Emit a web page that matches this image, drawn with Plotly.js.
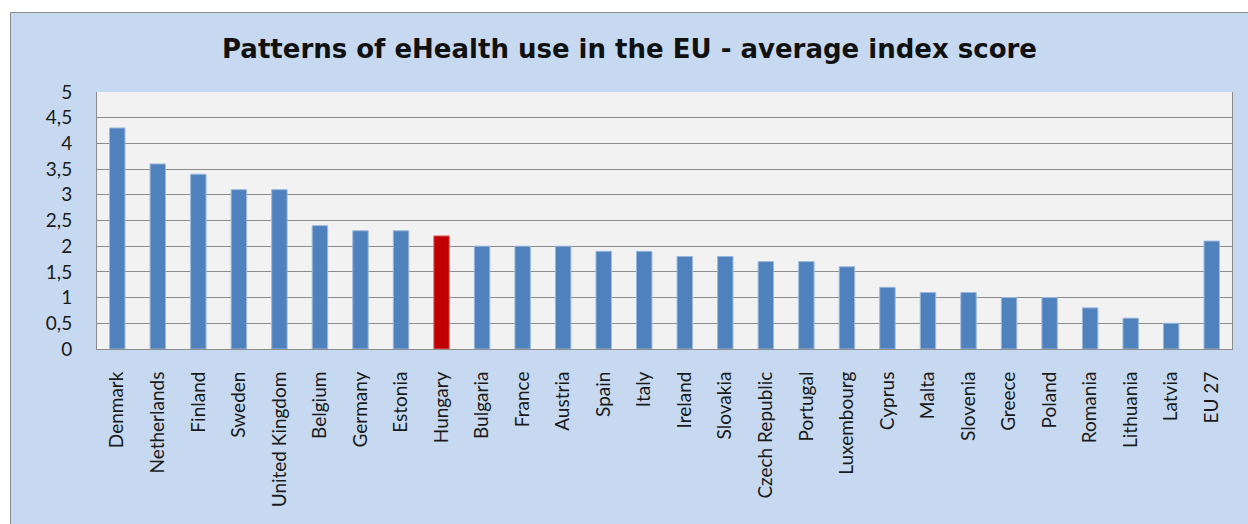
<!DOCTYPE html>
<html>
<head>
<meta charset="utf-8">
<script src="https://cdn.plot.ly/plotly-3.0.1.min.js"></script>
<style>
html,body{margin:0;padding:0;background:#ffffff;width:1248px;height:524px;overflow:hidden;}
#chart{position:absolute;left:10px;top:12px;width:1237px;height:511px;border-left:1px solid #8c8c8c;border-top:1px solid #8c8c8c;}
</style>
</head>
<body>
<div id="chart"></div>
<script>
const countries = ["Denmark","Netherlands","Finland","Sweden","United Kingdom","Belgium","Germany","Estonia","Hungary","Bulgaria","France","Austria","Spain","Italy","Ireland","Slovakia","Czech Republic","Portugal","Luxembourg","Cyprus","Malta","Slovenia","Greece","Poland","Romania","Lithuania","Latvia","EU 27"];
const scores = [4.3,3.6,3.4,3.1,3.1,2.4,2.3,2.3,2.2,2.0,2.0,2.0,1.9,1.9,1.8,1.8,1.7,1.7,1.6,1.2,1.1,1.1,1.0,1.0,0.8,0.6,0.5,2.1];
const highlighted = "Hungary";
const yTickVals = [0,0.5,1,1.5,2,2.5,3,3.5,4,4.5,5];
const yTickText = ["0","0,5","1","1,5","2","2,5","3","3,5","4","4,5","5"];

const colors = countries.map(c => c === highlighted ? "#c00000" : "#4f81bd");
const lineColors = countries.map(c => c === highlighted ? "#e06666" : "#9bb7dc");

const trace = {
  type: "bar",
  x: countries,
  y: scores,
  marker: {color: colors, line: {color: lineColors, width: 1}},
  hoverinfo: "x+y"
};

const layout = {
  width: 1237,
  height: 511,
  paper_bgcolor: "#c6d9f1",
  plot_bgcolor: "#f2f2f2",
  margin: {l: 86, r: 16, t: 79, b: 175},
  bargap: 0.62,
  showlegend: false,
  font: {family: "Lato, 'Open Sans', sans-serif", color: "#1a1a1a"},
  title: {
    text: "<b>Patterns of eHealth use in the EU - average index score</b>",
    font: {family: "'DejaVu Sans', sans-serif", size: 26, color: "#111111"},
    x: 0.5, xanchor: "center", y: 0.93, yanchor: "middle"
  },
  xaxis: {
    type: "category",
    tickangle: -90,
    tickfont: {size: 19, family: "Lato, sans-serif", color: "#1a1a1a"},
    showgrid: false,
    showline: true, linecolor: "#8c8c8c", linewidth: 1,
    ticks: "", ticklabelstandoff: 14,
    fixedrange: true
  },
  yaxis: {
    range: [0, 5],
    tickvals: yTickVals,
    ticktext: yTickText,
    tickfont: {size: 19, family: "Lato, sans-serif", color: "#1a1a1a"},
    showgrid: true, gridcolor: "#8c8c8c", gridwidth: 1,
    zeroline: false,
    showline: true, linecolor: "#8c8c8c", linewidth: 1,
    mirror: true,
    ticks: "", ticklabelstandoff: 20,
    fixedrange: true
  }
};

Plotly.newPlot("chart", [trace], layout, {displayModeBar: false, staticPlot: true});
</script>
</body>
</html>
